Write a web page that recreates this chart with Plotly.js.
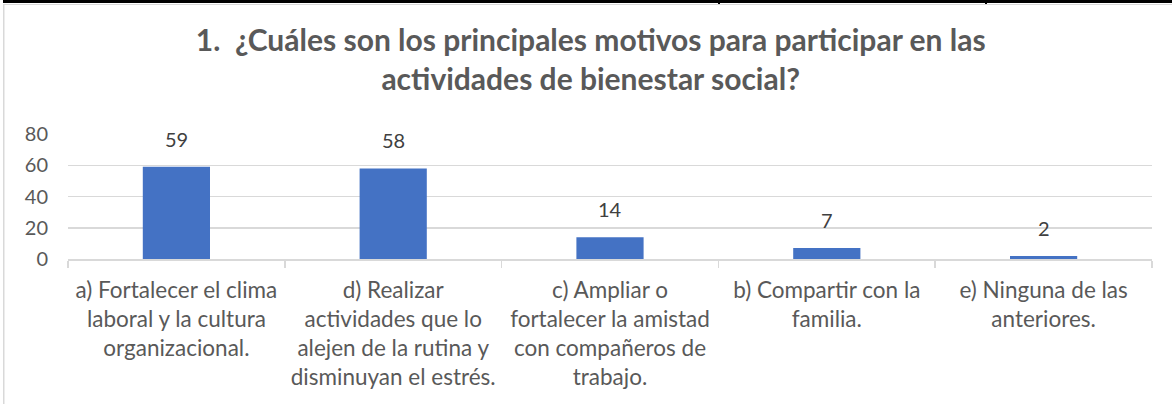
<!DOCTYPE html>
<html>
<head>
<meta charset="utf-8">
<script src="https://cdn.plot.ly/plotly-3.0.1.min.js"></script>
<style>
html,body{margin:0;padding:0;background:#fff;}
#chart{width:1172px;height:404px;}
</style>
</head>
<body>
<div id="chart"></div>
<script>
const categories = [
  "a) Fortalecer el clima<br>laboral y la cultura<br>organizacional.",
  "d) Realizar<br>actividades que lo<br>alejen de la rutina y<br>disminuyan el estrés.",
  "c) Ampliar o<br>fortalecer la amistad<br>con compañeros de<br>trabajo.",
  "b) Compartir con la<br>familia.",
  "e) Ninguna de las<br>anteriores."
];
const values = [59, 58, 14, 7, 2];
const yTicks = [0, 20, 40, 60, 80];
const titleText = "1.  ¿Cuáles son los principales motivos para participar en las<br>actividades de bienestar social?";

const FONT = "Lato, 'Open Sans', sans-serif";

const trace = {
  type: "bar",
  x: categories,
  y: values,
  marker: {color: "#4472C4"},
  width: 0.31,
  hoverinfo: "none"
};

const annotations = values.map((v, i) => ({
  x: categories[i], y: v, xref: "x", yref: "y",
  text: String(v), showarrow: false, yanchor: "bottom", yshift: 14,
  font: {family: FONT, size: 20, color: "#404040"}
}));

const layout = {
  width: 1172, height: 404,
  margin: {l: 68, r: 20, t: 134, b: 145},
  paper_bgcolor: "#ffffff", plot_bgcolor: "#ffffff",
  showlegend: false,
  bargap: 0.69,
  title: {
    text: titleText,
    x: 0.504, xanchor: "center", y: 0.875, yanchor: "top",
    font: {family: FONT, size: 30, color: "#595959", weight: "bold"}
  },
  xaxis: {
    tickfont: {family: FONT, size: 22.5, color: "#595959"},
    showline: true, linecolor: "#D9D9D9", linewidth: 1.5,
    ticks: "outside", ticklen: 7, tickcolor: "#D9D9D9", tickwidth: 1.5, tickson: "boundaries",
    ticklabelstandoff: 10,
    showgrid: false, fixedrange: true
  },
  yaxis: {
    range: [0, 80], tickvals: yTicks, ticktext: yTicks.map(String),
    tickfont: {family: FONT, size: 20, color: "#595959"},
    showgrid: true, gridcolor: "#D9D9D9", gridwidth: 1.5,
    zeroline: false, showline: false, ticklabelstandoff: 19,
    fixedrange: true
  },
  annotations: annotations
};

Plotly.newPlot("chart", [trace], layout, {displayModeBar: false, staticPlot: true}).then(() => {
  const svg = document.querySelector("#chart .main-svg");
  const ns = "http://www.w3.org/2000/svg";
  const add = (tag, attrs) => { const e = document.createElementNS(ns, tag); for (const k in attrs) e.setAttribute(k, attrs[k]); svg.appendChild(e); };
  add("rect", {x: 3, y: 0, width: 1169, height: 3, fill: "#000"});
  add("rect", {x: 718, y: 0, width: 2, height: 4, fill: "#000"});
  add("rect", {x: 985, y: 0, width: 2, height: 4, fill: "#000"});
  add("rect", {x: 3, y: 4, width: 1169, height: 1, fill: "#D9D9D9"});
  add("rect", {x: 3, y: 4, width: 1.5, height: 400, fill: "#D9D9D9"});
});
</script>
</body>
</html>
